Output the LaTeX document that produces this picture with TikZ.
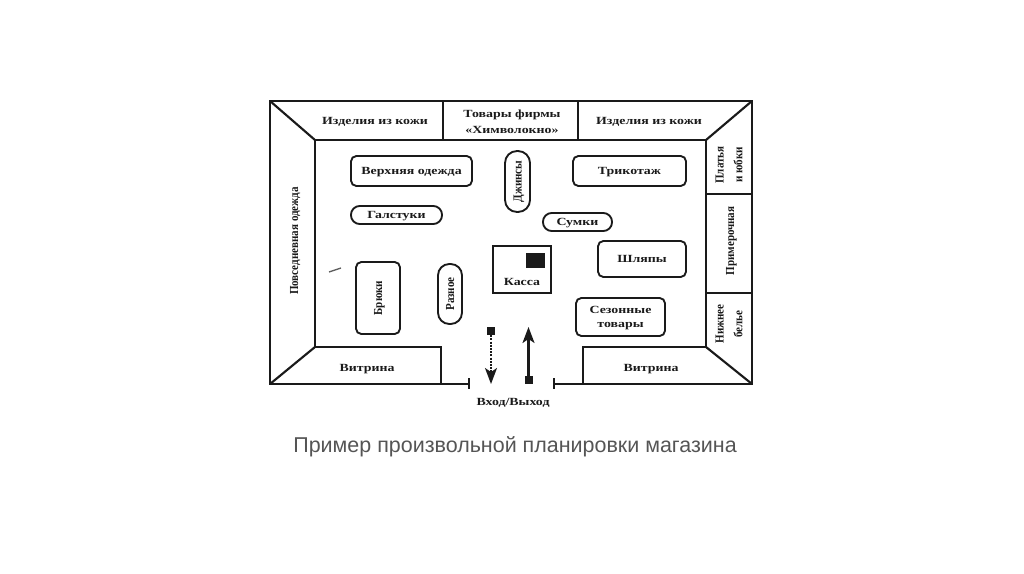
\documentclass[tikz,border=0pt]{standalone}
\usepackage{fontspec}
\setmainfont{Liberation Serif}
\newfontfamily\widefont[FakeStretch=1.27]{Liberation Serif}
\newfontfamily\narrowfont[FakeStretch=0.9]{Liberation Serif}
\newfontfamily\capfont{Liberation Sans}
\usetikzlibrary{arrows.meta}
\definecolor{ink}{HTML}{1A1A1A}
\definecolor{captxt}{HTML}{555555}
\tikzset{
  x=0.75pt,y=-0.75pt,
  wall/.style={draw=ink,line width=1.6pt},
  lbl/.style={font=\widefont\bfseries\fontsize{8.2}{11}\selectfont,text=ink,align=center,inner sep=0pt,text depth=0pt},
  rlbl/.style={font=\narrowfont\bfseries\fontsize{9.2}{14}\selectfont,text=ink,align=center,inner sep=0pt,rotate=90,text depth=0pt},
  stand/.style={draw=ink,line width=1.4pt,rounded corners=4pt,fill=white,lbl},
  rstand/.style={draw=ink,line width=1.4pt,rounded corners=4pt,fill=white,rlbl},
}
\begin{document}
\begin{tikzpicture}
\useasboundingbox (0,0) rectangle (1024,574);
\coordinate (oTL) at (270,101); \coordinate (oTR) at (752,101);
\coordinate (oBR) at (752,384); \coordinate (oBL) at (270,384);
\coordinate (iTL) at (315,140); \coordinate (iTR) at (706,140);
\coordinate (iBR) at (706,347); \coordinate (iBL) at (315,347);
\coordinate (stubL) at (469,384); \coordinate (stubR) at (554,384);
% walls
\draw[wall] (stubL) -- (oBL) -- (oTL) -- (oTR) -- (oBR) -- (stubR);
\draw[wall] (iBL) -- (iTL) -- (iTR) -- (iBR);
\draw[wall] (oTL) -- (iTL); \draw[wall] (oTR) -- (iTR);
\draw[wall] (oBL) -- (iBL); \draw[wall] (oBR) -- (iBR);
\draw[wall] (443,101) -- (443,140); \draw[wall] (578,101) -- (578,140);
\draw[wall] (706,194) -- (752,194); \draw[wall] (706,293) -- (752,293);
\draw[wall] (iBL) -- (441,347) -- (441,384);
\draw[wall] (iBR) -- (583,347) -- (583,384);
\draw[wall] (469,378) -- (469,389); \draw[wall] (554,378) -- (554,389);
% wall labels
\node[lbl] (a1) at (375,120.5) {Изделия из кожи};
\node[lbl,font=\widefont\bfseries\fontsize{8.2}{12}\selectfont] (a2) at (512,122) {Товары фирмы\\«Химволокно»};
\node[lbl] (a3) at (649,120.5) {Изделия из кожи};
\node[rlbl] (a4) at (294,241) {Повседневная одежда};
\node[rlbl] (a5) at (729,165) {Платья\\и юбки};
\node[rlbl] (a6) at (730,241) {Примерочная};
\node[rlbl] (a7) at (729,324) {Нижнее\\белье};
\node[lbl] (a8) at (367,368) {Витрина};
\node[lbl] (a9) at (651,368) {Витрина};
\node[lbl] (a10) at (513,402) {Вход/Выход};
% stands
\node[stand,minimum width=90.75pt,minimum height=22.5pt] (s1) at (411.5,171) {Верхняя одежда};
\node[stand,rounded corners=6.5pt,minimum width=68.25pt,minimum height=13.5pt] (s2) at (396.5,215) {Галстуки};
\node[rstand,rounded corners=9pt,minimum width=45.75pt,minimum height=18.75pt] (s3) at (517.5,181.5) {Джинсы};
\node[stand,minimum width=84.75pt,minimum height=22.5pt] (s4) at (629.5,171) {Трикотаж};
\node[stand,rounded corners=6.5pt,minimum width=51.75pt,minimum height=13.5pt] (s5) at (577.5,222) {Сумки};
\node[stand,minimum width=66pt,minimum height=27pt] (s6) at (642,259) {Шляпы};
\node[stand,minimum width=66.75pt,minimum height=28.5pt] (s7) at (620.5,317) {Сезонные\\товары};
\node[rstand,minimum width=54pt,minimum height=33pt] (s8) at (378,298) {Брюки};
\node[rstand,rounded corners=8.5pt,minimum width=45pt,minimum height=18pt] (s9) at (450,294) {Разное};
% cash desk
\node[draw=ink,line width=1.5pt,minimum width=43.5pt,minimum height=35pt,inner sep=0pt] (k) at (522,269.5) {};
\node[lbl] (kl) at (522,282) {Касса};
\node[fill=ink,minimum width=14.25pt,minimum height=11.25pt,inner sep=0pt] (kb) at (535.5,260.5) {};
% arrows
\node[fill=ink,minimum size=6pt,inner sep=0pt] (d1) at (491,331) {};
\coordinate (d2) at (491,384);
\draw[draw=ink,line width=1.4pt,densely dotted,-{Stealth[length=12pt,width=9pt,inset=3pt]}] (d1) -- (d2);
\node[fill=ink,minimum size=6pt,inner sep=0pt] (u1) at (528.5,380) {};
\coordinate (u2) at (528.5,327);
\draw[draw=ink,line width=1.6pt,-{Stealth[length=12pt,width=9pt,inset=3pt]}] (u1) -- (u2);
% stray scan mark
\draw[draw=ink!70,line width=1pt] (329,272) -- (341,268);
% caption
\node[font=\capfont\fontsize{16.1}{18}\selectfont,text=captxt,inner sep=0pt] (cap) at (515,447) {Пример произвольной планировки магазина};
\end{tikzpicture}
\end{document}
